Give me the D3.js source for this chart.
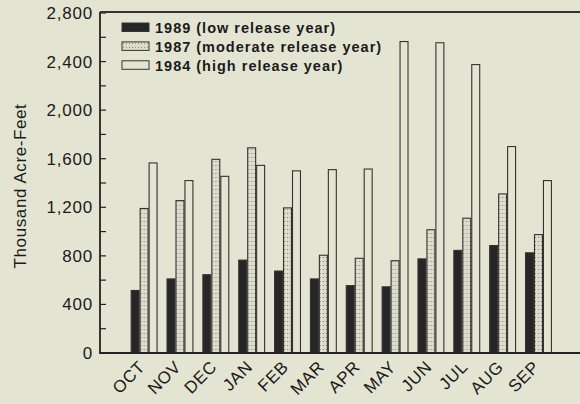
<!DOCTYPE html>
<html>
<head>
<meta charset="utf-8">
<script src="https://cdn.jsdelivr.net/npm/d3@7"></script>
<style>
html,body{margin:0;padding:0;background:#e4e4d3;}
svg{display:block;}
text{font-family:Arial,"Liberation Sans",Helvetica,sans-serif;fill:#1a1a1a;}
</style>
</head>
<body>
<svg id="chart" width="580" height="404"></svg>
<script>
const months = ["OCT","NOV","DEC","JAN","FEB","MAR","APR","MAY","JUN","JUL","AUG","SEP"];
const seriesNames = ["1989 (low release year)","1987 (moderate release year)","1984 (high release year)"];
const values1989 = [515,610,645,765,675,610,555,545,775,845,885,825];
const values1987 = [1190,1255,1595,1690,1195,805,780,760,1015,1110,1310,975];
const values1984 = [1565,1420,1455,1545,1500,1510,1515,2565,2555,2375,1700,1420];
const yTicks = [0,400,800,1200,1600,2000,2400,2800];
const yMinorTicks = [200,600,1000,1400,1800,2200,2600];

const series = [values1989, values1987, values1984];
const svg = d3.select("#chart");
const bg = "#e4e4d3";
svg.append("rect").attr("width",580).attr("height",404).attr("fill",bg);

const defs = svg.append("defs");
const pat = defs.append("pattern").attr("id","dots").attr("patternUnits","userSpaceOnUse")
  .attr("width",3).attr("height",4);
pat.append("rect").attr("width",3).attr("height",4).attr("fill","#dcdccb");
pat.append("rect").attr("x",1).attr("y",1).attr("width",1).attr("height",1).attr("fill","#8a8a80");

const fills = ["#262626","url(#dots)",bg];

const x0 = 100, yBottom = 353, yTop = 13;
const y = d3.scaleLinear().domain([0,2800]).range([yBottom,yTop]);
const x = d3.scaleBand().domain(months).range([126.2,556.4]).paddingInner(0.25).paddingOuter(0.125);
const xs = d3.scaleBand().domain([0,1,2]).range([0,x.bandwidth()]);

// bars
const groups = svg.append("g").selectAll("g").data(months).join("g")
  .attr("transform",d=>`translate(${x(d)},0)`);
groups.selectAll("rect").data((d,i)=>series.map((s,k)=>({k,v:s[i]}))).join("rect")
  .attr("x",d=>xs(d.k)+0.5)
  .attr("y",d=>y(d.v))
  .attr("width",xs.bandwidth()-1)
  .attr("height",d=>yBottom-y(d.v))
  .attr("fill",d=>fills[d.k])
  .attr("stroke","#333")
  .attr("stroke-width",1.1);

// y axis
const yAxis = d3.axisLeft(y).tickValues(yTicks).tickFormat(d3.format(",")).tickSize(0).tickPadding(7);
const ga = svg.append("g").attr("transform",`translate(${x0},0)`).call(yAxis);
ga.select(".domain").remove();
ga.selectAll("text").style("font-size","17px").style("letter-spacing","0.8px").attr("fill","#1a1a1a");
const tickAll = yTicks.concat(yMinorTicks);
svg.append("g").selectAll("line").data(tickAll).join("line")
  .attr("x1",x0).attr("x2",x0+6).attr("y1",d=>y(d)).attr("y2",d=>y(d))
  .attr("stroke","#222").attr("stroke-width",1.2);

// frame lines
svg.append("line").attr("x1",x0).attr("x2",x0).attr("y1",yTop-1).attr("y2",yBottom+1).attr("stroke","#222").attr("stroke-width",1.8);
svg.append("line").attr("x1",x0).attr("x2",580).attr("y1",yBottom).attr("y2",yBottom).attr("stroke","#222").attr("stroke-width",1.8);
svg.append("line").attr("x1",x0).attr("x2",580).attr("y1",yTop-1).attr("y2",yTop-1).attr("stroke","#333").attr("stroke-width",2);

// x labels
const xAxis = d3.axisBottom(x).tickSize(0).tickPadding(0);
const gx = svg.append("g").attr("transform",`translate(0,${yBottom})`).call(xAxis);
gx.select(".domain").remove();
gx.selectAll("text")
  .attr("text-anchor","end")
  .attr("dy",null)
  .attr("y",0)
  .attr("transform","translate(2,15) rotate(-45)")
  .style("font-size","17px").style("letter-spacing","0.6px").attr("fill","#1a1a1a");

// y title
svg.append("text").attr("transform","translate(26,186) rotate(-90)")
  .attr("text-anchor","middle").style("font-size","17px").style("letter-spacing","0.6px").text("Thousand Acre-Feet");

// legend
const leg = svg.append("g").attr("transform","translate(122,23)");
const li = leg.selectAll("g").data(seriesNames).join("g").attr("transform",(d,i)=>`translate(0,${i*18.9})`);
li.append("rect").attr("width",27).attr("height",8.5).attr("fill",(d,i)=>fills[i]).attr("stroke","#333").attr("stroke-width",1);
li.append("text").attr("x",33).attr("y",9.8).style("font-size","14.5px").style("font-weight","bold").style("letter-spacing","1px").text(d=>d);
</script>
</body>
</html>
